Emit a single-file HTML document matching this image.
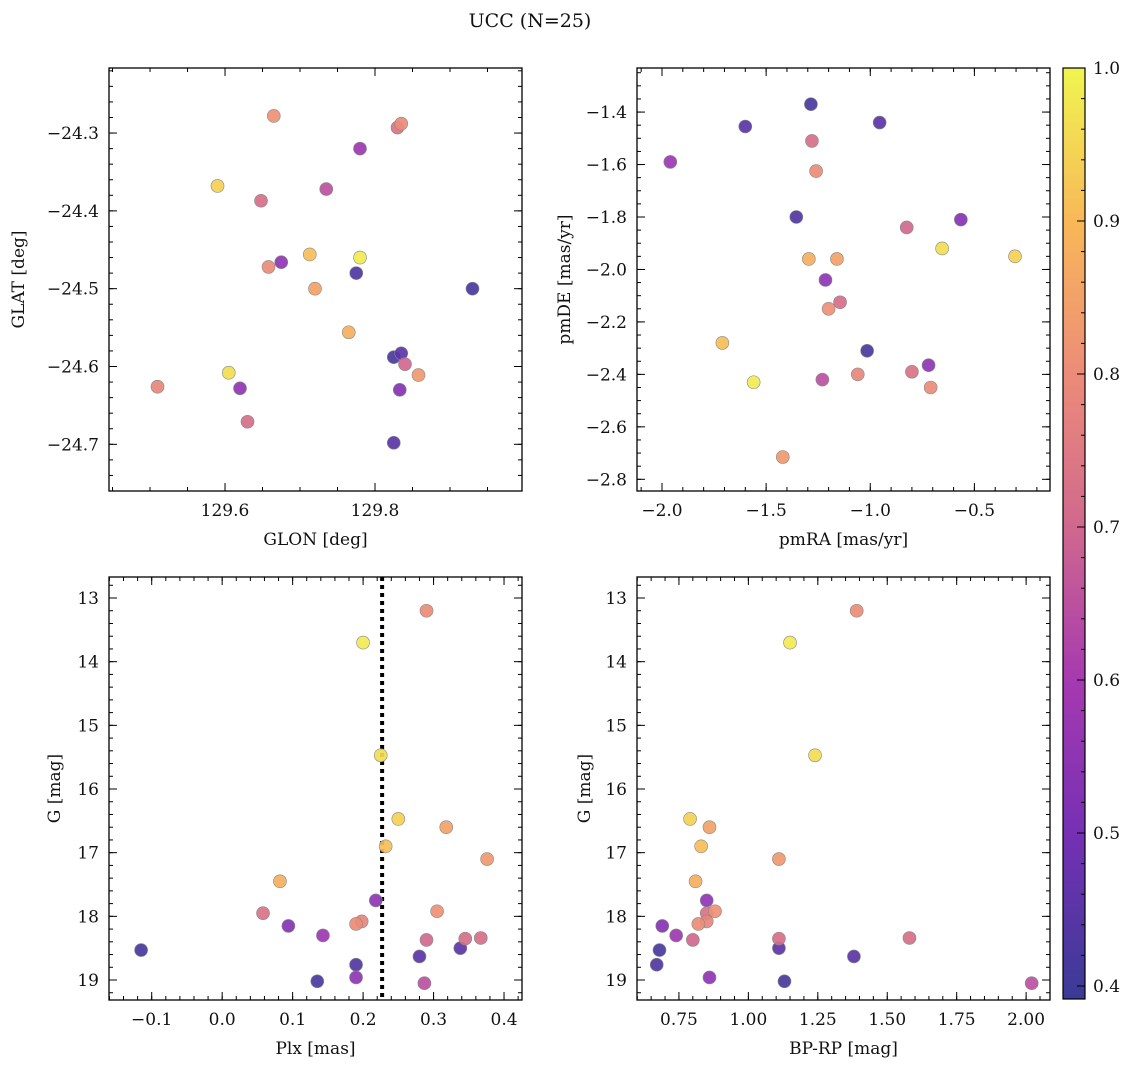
<!DOCTYPE html>
<html><head><meta charset="utf-8"><style>
body{margin:0;background:#fff;}
svg text{font-family:"DejaVu Serif","Liberation Serif",serif;fill:#111;}
</style></head><body>
<svg id="fig" width="1136" height="1067" xmlns="http://www.w3.org/2000/svg">
<text x="530" y="27" font-size="19" text-anchor="middle">UCC (N=25)</text>
</svg>
<script>
const prob=[0.98,0.96,0.94,0.91,0.88,0.85,0.83,0.81,0.80,0.80,0.78,0.73,0.72,0.72,0.70,0.65,0.58,0.55,0.55,0.53,0.45,0.45,0.43,0.42,0.42];
const plx=[0.20,0.225,0.25,0.232,0.082,0.318,0.376,0.305,0.29,0.19,0.198,0.058,0.345,0.367,0.29,0.287,0.143,0.218,0.19,0.094,0.338,0.28,0.19,-0.115,0.135];
const gmag=[13.7,15.47,16.47,16.9,17.45,16.6,17.1,17.92,13.2,18.12,18.08,17.95,18.35,18.34,18.37,19.05,18.3,17.75,18.96,18.15,18.5,18.63,18.76,18.53,19.02];
const bprp=[1.15,1.24,0.79,0.83,0.81,0.86,1.11,0.88,1.39,0.82,0.85,0.85,1.11,1.58,0.80,2.02,0.74,0.85,0.86,0.69,1.11,1.38,0.67,0.68,1.13];
const glon=[129.78,129.605,129.59,129.713,129.765,129.72,129.858,129.665,129.835,129.658,129.51,129.83,129.63,129.648,129.84,129.735,129.78,129.675,129.62,129.833,129.835,129.825,129.775,129.825,129.93];
const glat=[-24.46,-24.608,-24.368,-24.456,-24.556,-24.5,-24.611,-24.278,-24.288,-24.472,-24.626,-24.293,-24.671,-24.387,-24.597,-24.372,-24.32,-24.466,-24.628,-24.63,-24.583,-24.698,-24.48,-24.588,-24.5];
const pmra=[-1.56,-0.655,-0.305,-1.71,-1.295,-1.16,-1.42,-1.2,-0.71,-1.26,-1.06,-0.8,-1.145,-1.28,-0.825,-1.23,-1.96,-0.72,-1.215,-0.565,-0.955,-1.6,-1.355,-1.015,-1.285];
const pmde=[-2.43,-1.92,-1.95,-2.28,-1.96,-1.96,-2.715,-2.15,-2.45,-1.625,-2.4,-2.39,-2.125,-1.51,-1.84,-2.42,-1.59,-2.365,-2.04,-1.81,-1.44,-1.455,-1.8,-2.31,-1.37];
const plxLine=0.227;
const cbTicks=[0.4,0.5,0.6,0.7,0.8,0.9,1.0];

const NS="http://www.w3.org/2000/svg";
const svg=document.getElementById('fig');
function el(t,a,p){const e=document.createElementNS(NS,t);for(const k in a)e.setAttribute(k,a[k]);(p||svg).appendChild(e);return e;}
const stops=[[0.39,[58,59,150]],[0.5,[118,48,180]],[0.6,[166,58,176]],[0.7,[208,104,142]],[0.8,[236,140,120]],[0.9,[248,184,88]],[1.0,[240,245,80]]];
function cmap(v){for(let i=1;i<stops.length;i++){if(v<=stops[i][0]){const a=stops[i-1],b=stops[i],t=Math.max(0,(v-a[0])/(b[0]-a[0]));return 'rgb('+a[1].map((c,j)=>Math.round(c+(b[1][j]-c)*t)).join(',')+')';}}return 'rgb(240,245,80)';}
function fmt(v,d){let s=v.toFixed(d);return s.replace('-','\u2212');}

function panel(name,x0,y0,w,h,xmin,xmax,ymin,ymax,invY,xmaj,xmin_,xd,ymaj,ymin_,yd,xlab,ylab,ylx){
  const g=el('g',{});
  
  
  const X=v=>x0+(v-xmin)/(xmax-xmin)*w;
  const Y=v=>invY? y0+(v-ymin)/(ymax-ymin)*h : y0+h-(v-ymin)/(ymax-ymin)*h;
  const ticks=(lo,hi,st)=>{const r=[];for(let v=Math.ceil(lo/st-1e-6)*st;v<=hi+1e-9;v+=st)r.push(Math.round(v/st)*st);return r;};
  ticks(xmin,xmax,xmin_).forEach(v=>{const x=X(v);el('line',{x1:x,x2:x,y1:y0,y2:y0+4,stroke:'#000','stroke-width':1},g);el('line',{x1:x,x2:x,y1:y0+h,y2:y0+h-4,stroke:'#000','stroke-width':1},g);});
  ticks(xmin,xmax,xmaj).forEach(v=>{const x=X(v);el('line',{x1:x,x2:x,y1:y0,y2:y0+8,stroke:'#000','stroke-width':1},g);el('line',{x1:x,x2:x,y1:y0+h,y2:y0+h-8,stroke:'#000','stroke-width':1},g);
    const t=el('text',{x:x,y:y0+h+25,'font-size':17,'text-anchor':'middle'},g);t.textContent=fmt(v,xd);
    
    });
  ticks(Math.min(ymin,ymax),Math.max(ymin,ymax),ymin_).forEach(v=>{const y=Y(v);el('line',{y1:y,y2:y,x1:x0,x2:x0+4,stroke:'#000','stroke-width':1},g);el('line',{y1:y,y2:y,x1:x0+w,x2:x0+w-4,stroke:'#000','stroke-width':1},g);});
  ticks(Math.min(ymin,ymax),Math.max(ymin,ymax),ymaj).forEach(v=>{const y=Y(v);el('line',{y1:y,y2:y,x1:x0,x2:x0+8,stroke:'#000','stroke-width':1},g);el('line',{y1:y,y2:y,x1:x0+w,x2:x0+w-8,stroke:'#000','stroke-width':1},g);
    const t=el('text',{x:x0-10,y:y+6,'font-size':17,'text-anchor':'end'},g);t.textContent=fmt(v,yd);
    
    });
  el('rect',{x:x0,y:y0,width:w,height:h,fill:'none',stroke:'#000','stroke-width':1.3},g);
  const xl=el('text',{x:x0+w/2,y:y0+h+54,'font-size':17,'text-anchor':'middle'},g);xl.textContent=xlab;
  
  
  const yl=el('text',{x:ylx,y:y0+h/2,'font-size':17,'text-anchor':'middle',transform:'rotate(-90 '+ylx+' '+(y0+h/2)+')'},g);yl.textContent=ylab;
  
  
  return {g,X,Y};
}
function scatter(p,xs,ys){
  const idx=prob.map((v,i)=>i).sort((a,b)=>prob[a]-prob[b]);
  idx.forEach(i=>{const c=el('circle',{cx:p.X(xs[i]),cy:p.Y(ys[i]),r:6.5,fill:cmap(prob[i]),'fill-opacity':0.92,stroke:'#888','stroke-width':0.6},p.g);
    
    });
}
const p1=panel('panel-glon-glat',109,68,413,423,129.4453,129.996,-24.760,-24.2164,false,0.2,0.05,1,0.1,0.02,1,'GLON [deg]','GLAT [deg]',24);
scatter(p1,glon,glat);
const p2=panel('panel-proper-motion',637,68,413,423,-2.120,-0.137,-2.8446,-1.232,false,0.5,0.1,1,0.2,0.05,1,'pmRA [mas/yr]','pmDE [mas/yr]',570);
scatter(p2,pmra,pmde);
const p3=panel('panel-plx-g',109,577,413,423,-0.1606,0.4255,12.670,19.314,true,0.1,0.02,1,1,0.2,0,'Plx [mas]','G [mag]',60);
const lx=p3.X(plxLine);
const vl=el('line',{x1:lx,x2:lx,y1:577,y2:1000,stroke:'#000','stroke-width':4,'stroke-dasharray':'4,4'},p3.g);


scatter(p3,plx,gmag);
const p4=panel('panel-cmd',637,577,413,423,0.599,2.086,12.670,19.314,true,0.25,0.05,2,1,0.2,0,'BP-RP [mag]','G [mag]',590);
scatter(p4,bprp,gmag);

const cb=el('g',{});


const grad=el('linearGradient',{id:'cbg',x1:0,y1:1,x2:0,y2:0},el('defs',{},cb));
stops.forEach(s=>el('stop',{offset:(s[0]-0.3915)/(1-0.3915),'stop-color':'rgb('+s[1].join(',')+')'},grad));
el('rect',{x:1063,y:68,width:22,height:931,fill:'url(#cbg)',stroke:'#000','stroke-width':1.2},cb);
const CY=v=>999-(v-0.3915)/(1-0.3915)*931;
for(let v=0.40;v<=1.0001;v+=0.02){const y=CY(v);el('line',{x1:1085,x2:1081,y1:y,y2:y,stroke:'#000','stroke-width':1},cb);}
cbTicks.forEach(v=>{const y=CY(v);el('line',{x1:1085,x2:1077,y1:y,y2:y,stroke:'#000','stroke-width':1},cb);
  const t=el('text',{x:1093,y:y+6,'font-size':17},cb);t.textContent=v.toFixed(1);
  
  });
</script>
</body></html>
